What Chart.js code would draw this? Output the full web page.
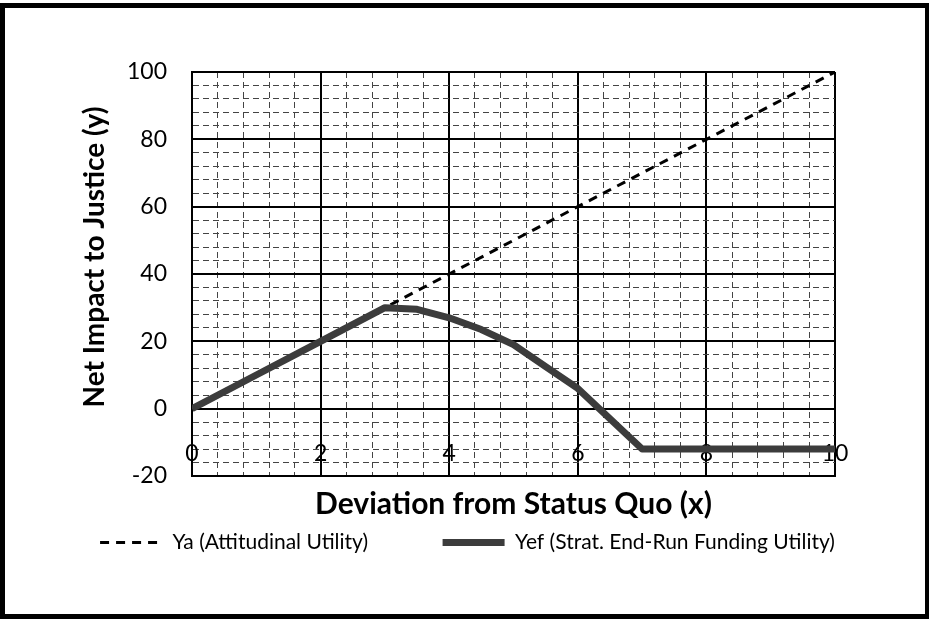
<!DOCTYPE html>
<html>
<head>
<meta charset="utf-8">
<script src="https://cdn.jsdelivr.net/npm/chart.js@4/dist/chart.umd.min.js"></script>
<style>
  html, body { margin: 0; padding: 0; background: #fff; }
  #wrap { position: relative; width: 929px; height: 619px; }
  #frame {
    position: absolute; left: 0; top: 3px; width: 929px; height: 616px;
    box-sizing: border-box; border: 5px solid #000; border-right-width: 4px;
    pointer-events: none;
  }
</style>
</head>
<body>
<div id="wrap">
  <canvas id="chart" width="929" height="619"></canvas>
  <div id="frame"></div>
</div>
<script>
// values
const yaX = [0, 1, 2, 3, 4, 5, 6, 7, 8, 9, 10]
const yaValues = [0, 10, 20, 30, 40, 50, 60, 70, 80, 90, 100]
const yefX = [0, 1, 2, 3, 3.5, 4, 4.5, 5, 5.5, 6, 6.5, 7, 8, 9, 10]
const yefValues = [0, 10, 20, 30, 29.5, 27, 23.5, 19, 12.5, 6, -3, -12, -12, -12, -12]
const seriesNames = ['Ya (Attitudinal Utility)', 'Yef (Strat. End-Run Funding Utility)']
const xTitle = 'Deviation from Status Quo (x)'
const yTitle = 'Net Impact to Justice (y)'

const FONT = 'Lato, "Open Sans", sans-serif'

let near = (v, step) => Math.abs(v / step - Math.round(v / step)) < 1e-6

let toPoints = (xs, ys) => xs.map((x, i) => ({ x: x, y: ys[i] }))

const data = {
    datasets: [{
        label: seriesNames[0],
        data: toPoints(yaX, yaValues),
        borderColor: '#000',
        backgroundColor: '#000',
        borderWidth: 3,
        borderDash: [9, 7],
        pointRadius: 0,
        pointStyle: 'line',
        order: 2
    }, {
        label: seriesNames[1],
        data: toPoints(yefX, yefValues),
        borderColor: '#3c3c3c',
        backgroundColor: '#3c3c3c',
        borderWidth: 7,
        borderJoinStyle: 'round',
        pointRadius: 0,
        pointStyle: 'line',
        order: 1
    }]
}

// legend samples follow the dataset line style, not the point style
function legendLabels(chart) {
    let items = Chart.defaults.plugins.legend.labels.generateLabels(chart)
    items.forEach((item) => {
        let ds = chart.data.datasets[item.datasetIndex]
        item.lineWidth = ds.borderWidth
        item.lineDash = ds.borderDash || []
        item.strokeStyle = ds.borderColor
        item.lineCap = 'butt'
        if (item.datasetIndex == 0) item.text = item.text + '            '
    })
    return items.sort((a, b) => a.datasetIndex - b.datasetIndex)
}

const config = {
    type: 'line',
    data,
    options: {
        responsive: false,
        animation: false,
        layout: { padding: { left: 6, right: 0, top: 72, bottom: 56 } },
        plugins: {
            legend: {
                position: 'bottom',
                labels: {
                    usePointStyle: true,
                    pointStyleWidth: 62,
                    padding: 10,
                    color: '#000',
                    font: { family: FONT, size: 21 },
                    generateLabels: legendLabels
                }
            },
            tooltip: { enabled: false }
        },
        scales: {
            x: {
                type: 'linear',
                min: 0,
                max: 10,
                ticks: {
                    stepSize: 0.4,
                    autoSkip: false,
                    maxRotation: 0,
                    mirror: true,
                    padding: 9,
                    color: '#000',
                    font: { family: FONT, size: 23 },
                    callback: (v) => near(v, 2) ? String(Math.round(v)) : ''
                },
                grid: {
                    drawTicks: false,
                    color: (ctx) => ctx.tick && near(ctx.tick.value, 2) ? '#000' : '#444',
                    lineWidth: (ctx) => ctx.tick && near(ctx.tick.value, 2) ? 2 : 1
                },
                border: {
                    color: '#000',
                    width: 2,
                    dash: (ctx) => ctx.tick && !near(ctx.tick.value, 2) ? [6, 4] : []
                },
                title: {
                    display: true,
                    text: xTitle,
                    color: '#000',
                    font: { family: FONT, size: 30, weight: 'bold' },
                    padding: { top: 0, bottom: 0 }
                },
                afterFit: (scale) => { scale.height = 46 }
            },
            y: {
                type: 'linear',
                min: -20,
                max: 100,
                ticks: {
                    stepSize: 4,
                    autoSkip: false,
                    padding: 25,
                    color: '#000',
                    font: { family: FONT, size: 23 },
                    callback: (v) => near(v, 20) ? String(Math.round(v)) : ''
                },
                grid: {
                    drawTicks: false,
                    color: (ctx) => ctx.tick && near(ctx.tick.value, 20) ? '#000' : '#444',
                    lineWidth: (ctx) => ctx.tick && near(ctx.tick.value, 20) ? 2 : 1
                },
                border: {
                    color: '#000',
                    width: 2,
                    dash: (ctx) => ctx.tick && !near(ctx.tick.value, 20) ? [6, 4] : []
                },
                title: {
                    display: true,
                    // leading spaces lift the title a little, as in the original
                    text: '     ' + yTitle,
                    color: '#000',
                    font: { family: FONT, size: 28, weight: 'bold' },
                    padding: { top: 72, bottom: 0 }
                },
                afterFit: (scale) => { scale.width = 186 }
            },
            spacer: {
                type: 'linear',
                position: 'right',
                display: true,
                ticks: { display: false },
                grid: { display: false, drawOnChartArea: false },
                border: { display: false },
                afterFit: (scale) => { scale.width = 94 }
            }
        }
    }
}

const myChart = new Chart(document.getElementById('chart'), config)
</script>
</body>
</html>
